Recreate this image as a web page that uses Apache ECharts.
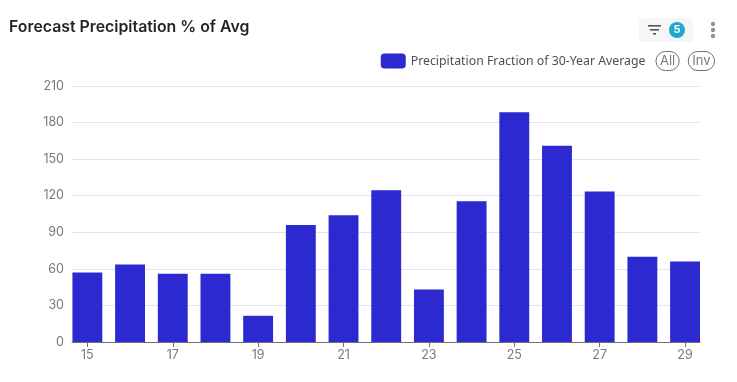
<!DOCTYPE html>
<html><head><meta charset="utf-8">
<style>html,body{margin:0;padding:0;background:#fff}#c{width:737px;height:382px}</style>
<script src="https://cdn.jsdelivr.net/npm/echarts@6/dist/echarts.min.js"></script>
</head><body><div id="c"></div>
<script>
const days = [15,16,17,18,19,20,21,22,23,24,25,26,27,28,29];
const tickDays = [15,17,19,21,23,25,27,29];
const precip = [57,63.5,56,56,21.5,96,104,124.5,43,115.5,188.5,161,123.5,70,66];
const seriesName = 'Precipitation Fraction of 30-Year Average';
const chartTitle = 'Forecast Precipitation % of Avg';
const filterCount = '5';
const font = 'Inter, "Noto Sans", sans-serif';
const chart = echarts.init(document.getElementById('c'));
chart.setOption({
  animation:false,
  title:{text:chartTitle,left:4,top:14,textStyle:{fontFamily:font,fontSize:15.85,fontWeight:600,color:'#1f2329'}},
  legend:{
    data:[{name:seriesName,icon:'roundRect'}],
    right:17,top:46,itemWidth:25,itemHeight:15,itemGap:5,
    textStyle:{fontFamily:'"Noto Sans", sans-serif',fontSize:12.3,color:'#4b4f55'},
    selector:[{type:'all',title:'All'},{type:'inverse',title:'Inv'}],
    selectorLabel:{fontFamily:font,fontSize:13,color:'#777a80',borderColor:'#6e7079',borderWidth:1,borderRadius:10,padding:[3,4]},
    selectorItemGap:8,selectorButtonGap:10
  },
  grid:{left:72,right:37,top:86,bottom:40},
  xAxis:{type:'value',min:14.64,max:29.35,
    splitLine:{show:false},
    axisLine:{lineStyle:{color:'#6e7079'}},
    axisTick:{length:5,lineStyle:{color:'#6e7079'},customValues:tickDays},
    axisLabel:{customValues:tickDays,fontFamily:font,fontSize:12.5,color:'#777a80',margin:7}},
  yAxis:{type:'value',min:0,max:210,interval:30,
    axisLine:{show:false},axisTick:{show:false},
    axisLabel:{fontFamily:font,fontSize:12.5,color:'#777a80',margin:8},
    splitLine:{lineStyle:{color:'#e0e6f1'}}},
  series:[{name:seriesName,type:'bar',data:days.map((d,i)=>[d,precip[i]]),barCategoryGap:'30%',
    itemStyle:{color:'#2c29d1'}}],
  graphic:[
    {type:'rect',shape:{x:639,y:18,width:54,height:24,r:4},style:{fill:'#f5f6f7'}},
    {type:'rect',shape:{x:648,y:25,width:13,height:1.6},style:{fill:'#555'}},
    {type:'rect',shape:{x:650,y:29,width:9,height:1.6},style:{fill:'#555'}},
    {type:'rect',shape:{x:653,y:33,width:3,height:1.6},style:{fill:'#555'}},
    {type:'circle',shape:{cx:677,cy:30,r:8},style:{fill:'#1fa8c9'}},
    {type:'text',style:{x:677,y:30,text:filterCount,fill:'#fff',font:'bold 11px Inter, sans-serif',align:'center',verticalAlign:'middle'}},
    {type:'circle',shape:{cx:713,cy:24,r:2.2},style:{fill:'#8a949c'}},
    {type:'circle',shape:{cx:713,cy:30,r:2.2},style:{fill:'#8a949c'}},
    {type:'circle',shape:{cx:713,cy:36,r:2.2},style:{fill:'#8a949c'}}
  ]
});
</script></body></html>
